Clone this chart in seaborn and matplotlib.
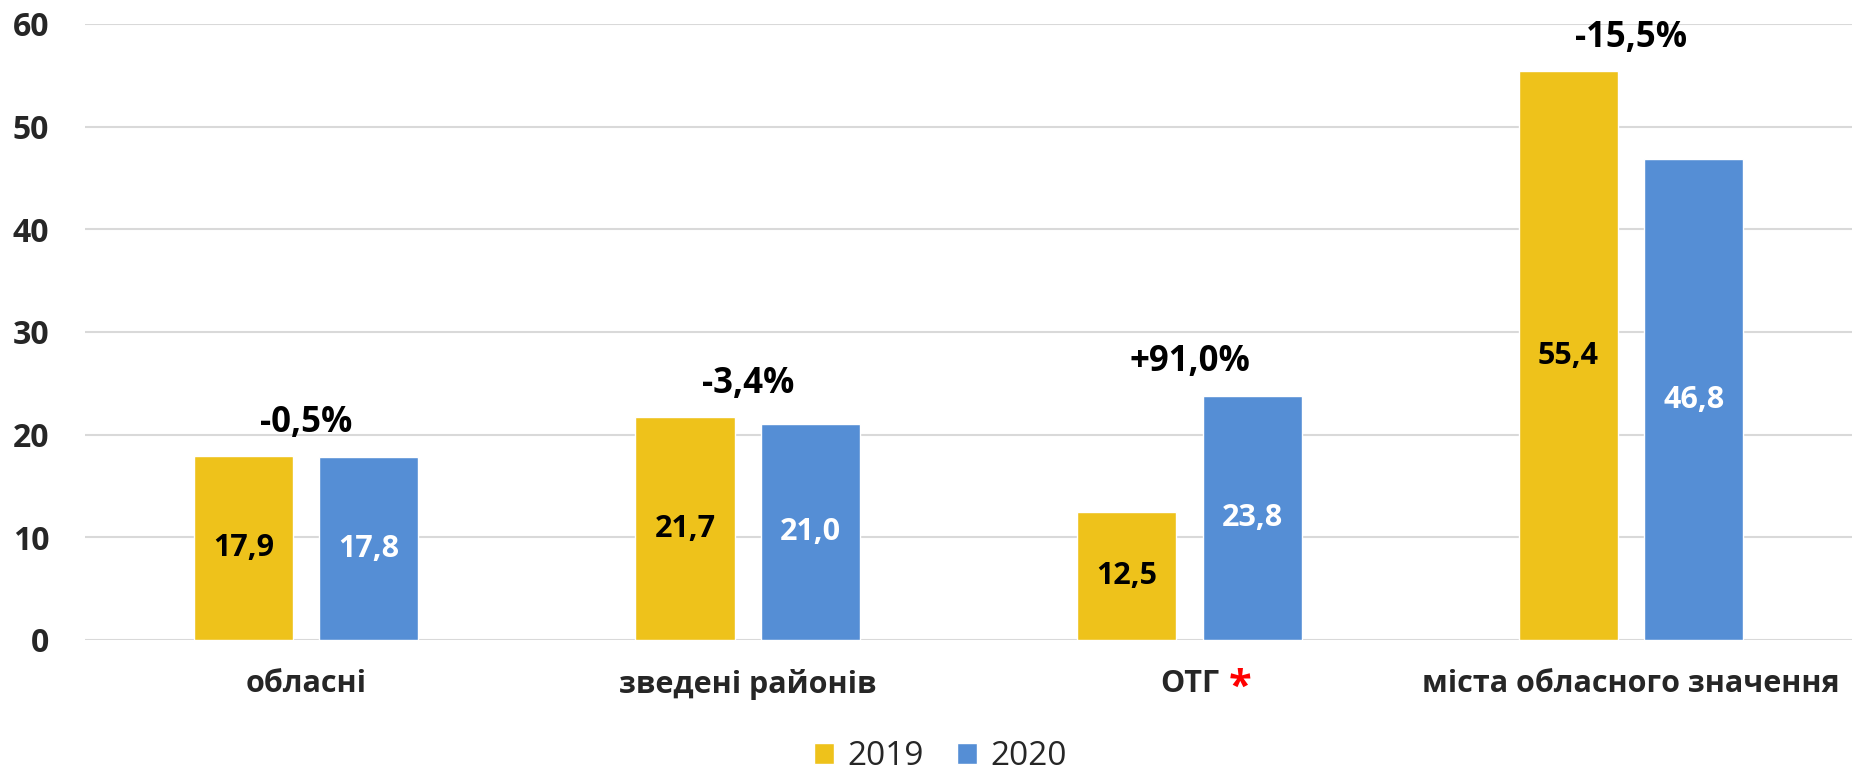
import pandas as pd
import matplotlib
matplotlib.use("Agg")
import matplotlib.pyplot as plt
import seaborn as sns
from matplotlib.patches import Patch
from matplotlib.transforms import blended_transform_factory

categories = ["обласні", "зведені районів", "ОТГ", "міста обласного значення"]
years = ["2019", "2020"]
values_2019 = [17.9, 21.7, 12.5, 55.4]
values_2020 = [17.8, 21.0, 23.8, 46.8]
change_labels = ["-0,5%", "-3,4%", "+91,0%", "-15,5%"]

colors = ["#EEC21B", "#558ED5"]

df = pd.DataFrame({
    "category": categories * 2,
    "year": [years[0]] * 4 + [years[1]] * 4,
    "value": values_2019 + values_2020,
})

sns.set_theme(style="white")
plt.rcParams["font.family"] = ["Open Sans", "DejaVu Sans"]
plt.rcParams["font.weight"] = "bold"

fig = plt.figure(figsize=(18.52, 7.72), dpi=100)
ax = fig.add_axes([0.046, 0.171, 0.954, 0.798])

sns.barplot(data=df, x="category", y="value", hue="year", palette=colors,
            width=0.568, gap=0.21, legend=False, ax=ax, saturation=1)

ax.set_ylim(0, 60)
ax.set_xlim(-0.5, 3.5)
ax.set_yticks(range(0, 61, 10))
ax.yaxis.grid(True, color="#D9D9D9", linewidth=1.5)
ax.set_axisbelow(True)
sns.despine(ax=ax, left=True, bottom=True)
ax.set_xlabel("")
ax.set_ylabel("")
ax.tick_params(axis="y", length=0, pad=26, labelsize=23)
ax.tick_params(axis="x", length=0, pad=21, labelsize=22)
for lbl in ax.get_yticklabels() + ax.get_xticklabels():
    lbl.set_fontweight("bold")

# value labels inside bars
for cont, tcol in zip(ax.containers, ["black", "white"]):
    ax.bar_label(cont, labels=[f"{v:.1f}".replace(".", ",") for v in cont.datavalues],
                 label_type="center", color=tcol, fontsize=22, fontweight="bold")

# percent change above groups
for i, txt in enumerate(change_labels):
    top = max(values_2019[i], values_2020[i])
    ax.annotate(txt, (i, top), xytext=(0, 11), textcoords="offset points",
                ha="center", va="bottom", fontsize=25, fontweight="bold", color="black")

# red asterisk after ОТГ
trans = blended_transform_factory(ax.transData, ax.transAxes)
ax.text(2.115, -0.045, "*", transform=trans, color="red", fontsize=30,
        fontweight="bold", ha="center", va="top")

handles = [Patch(facecolor=c, label=y) for c, y in zip(colors, years)]
fig.legend(handles=handles, loc="center", bbox_to_anchor=(0.508, 0.02), ncol=2,
           frameon=False, prop={"size": 24, "weight": "normal"},
           handlelength=0.6, handleheight=0.6, handletextpad=0.4, columnspacing=1.0)

fig.savefig("out.png", dpi=100)
